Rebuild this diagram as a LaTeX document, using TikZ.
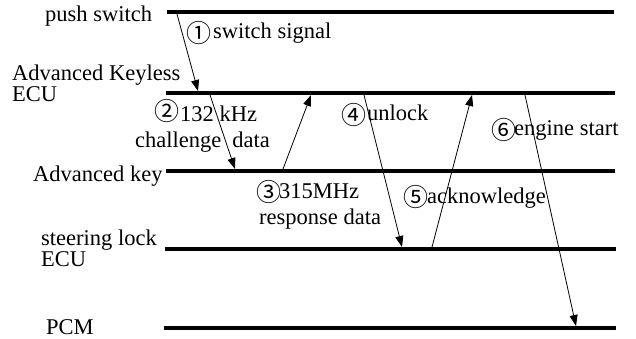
\documentclass[tikz,border=0pt]{standalone}
\usepackage{fontspec}
\setmainfont{Liberation Serif}
\newfontfamily\cjk{Noto Sans CJK JP}
\usetikzlibrary{arrows.meta}
\begin{document}
\begin{tikzpicture}[x=1pt,y=-1pt,
  lifeline/.style={line width=3.8pt},
  msg/.style={line width=0.8pt,-{Triangle[length=11pt,width=8pt]}},
  lbl/.style={inner sep=0pt,anchor=base west,font=\fontsize{22.5}{18}\selectfont},
  num/.style={inner sep=0pt,anchor=center,font=\fontsize{25}{25}\selectfont\cjk}]
\useasboundingbox (0,0) rectangle (636,338);
% lifelines
\coordinate (ps1) at (167,12);  \coordinate (ps2) at (614,12);
\coordinate (ak1) at (166,93);  \coordinate (ak2) at (615,93);
\coordinate (ky1) at (166,171); \coordinate (ky2) at (615,171);
\coordinate (sl1) at (165,249); \coordinate (sl2) at (616,249);
\coordinate (pc1) at (164,328); \coordinate (pc2) at (616,328);
\draw[lifeline] (ps1) -- (ps2);
\draw[lifeline] (ak1) -- (ak2);
\draw[lifeline] (ky1) -- (ky2);
\draw[lifeline] (sl1) -- (sl2);
\draw[lifeline] (pc1) -- (pc2);
% message endpoints
\coordinate (m1s) at (177,14);  \coordinate (m1e) at (198,91);
\coordinate (m2s) at (210,95);  \coordinate (m2e) at (235,169);
\coordinate (m3s) at (283,169); \coordinate (m3e) at (311,95);
\coordinate (m4s) at (364,95);  \coordinate (m4e) at (402,247);
\coordinate (m5s) at (432,247); \coordinate (m5e) at (472,95);
\coordinate (m6s) at (525,95);  \coordinate (m6e) at (576,326);
\draw[msg] (m1s) -- (m1e);
\draw[msg] (m2s) -- (m2e);
\draw[msg] (m3s) -- (m3e);
\draw[msg] (m4s) -- (m4e);
\draw[msg] (m5s) -- (m5e);
\draw[msg] (m6s) -- (m6e);
% lifeline labels
\node[lbl] (lps) at (45,21) {push switch};
\node[lbl,align=left,font=\fontsize{22.5}{17}\selectfont] (lak) at (12,101) {Advanced Keyless\\ECU};
\node[lbl] (lky) at (33,181) {Advanced key};
\node[lbl,align=left,font=\fontsize{22.5}{19.5}\selectfont] (lsl) at (41,266.5) {steering lock\\ECU};
\node[lbl] (lpc) at (46,334) {PCM};
% message labels
\node[num] (n1) at (198.5,33) {①};
\node[lbl] (t1) at (213,38.5) {switch signal};
\node[num] (n2) at (167,110.5) {②};
\node[lbl] (t2) at (180,121) {132 kHz};
\node[lbl] (t2b) at (135,147) {challenge\hspace{11pt}data};
\node[num] (n3) at (268.5,191.5) {③};
\node[lbl] (t3) at (279,198) {315MHz};
\node[lbl] (t3b) at (259,224) {response data};
\node[num] (n4) at (353.5,115) {④};
\node[lbl] (t4) at (367,120.5) {unlock};
\node[num] (n5) at (415.5,196.5) {⑤};
\node[lbl] (t5) at (427,203) {acknowledge};
\node[num] (n6) at (503.5,130) {⑥};
\node[lbl] (t6) at (514,135) {engine start};
\end{tikzpicture}
\end{document}
